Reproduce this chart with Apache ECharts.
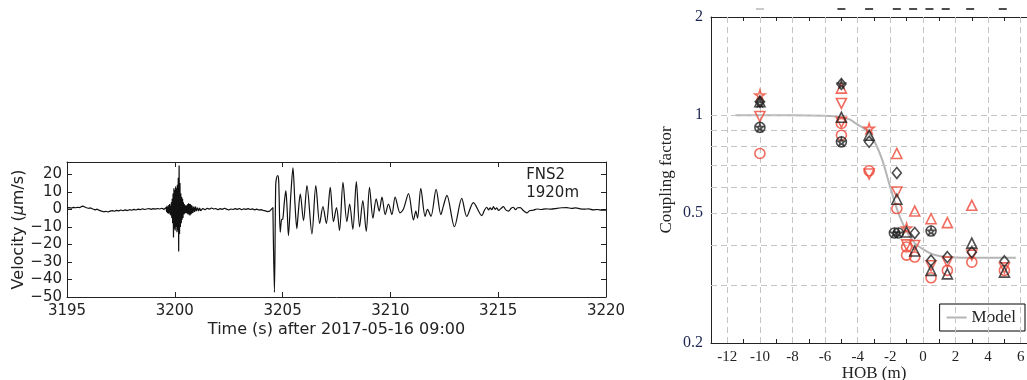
<!DOCTYPE html>
<html lang="en">
<head>
    <meta charset="UTF-8">
    <script src="https://cdn.jsdelivr.net/npm/echarts@6.0.0/dist/echarts.min.js"></script>
    <style>
        html, body { margin: 0; padding: 0; background: #fff; }
    </style>
</head>
<body>
<div id="chart" style="width: 1027px;height:380px;"></div>
<script type="text/javascript">

    // ---- left panel: FNS2 velocity trace, [time (s), velocity (um/s)]
    var preEvent = [
        [3195.0, 0.8], [3195.1, 1.0], [3195.2, 0.7], [3195.3, 1.1], [3195.4, 0.9], [3195.5, 1.2],
        [3195.6, 1.0], [3195.7, 1.8], [3195.75, 2.2], [3195.8, 1.5], [3195.9, 0.9], [3196.0, 0.6],
        [3196.1, 0.8], [3196.2, 0.2], [3196.3, -0.3], [3196.4, 0.1], [3196.5, -0.6], [3196.6, -1.0],
        [3196.7, -1.4], [3196.8, -1.1], [3196.9, -1.5], [3197.0, -1.0], [3197.1, -0.7], [3197.2, -1.1],
        [3197.3, -0.6], [3197.4, -0.9], [3197.5, -0.4], [3197.6, -0.8], [3197.7, -0.3], [3197.8, -0.7],
        [3197.9, -0.2], [3198.0, -0.5], [3198.1, 0.0], [3198.2, -0.4], [3198.3, 0.1], [3198.4, -0.2],
        [3198.5, 0.3], [3198.6, -0.1], [3198.7, 0.2], [3198.8, 0.5], [3198.9, 0.0], [3199.0, 0.4],
        [3199.1, 0.1], [3199.2, 0.5], [3199.3, 0.2], [3199.4, 0.6], [3199.5, 0.0], [3199.6, 1.0]
    ];
    var burst = [
        [3199.62, -1.5], [3199.64, 2], [3199.66, -2], [3199.68, 1.5], [3199.70, -2.5], [3199.72, 2.5],
        [3199.74, -2], [3199.76, 3], [3199.78, -3], [3199.80, 2], [3199.82, -3.5], [3199.84, 4],
        [3199.86, -5], [3199.88, 6], [3199.90, -8], [3199.92, 9], [3199.94, -16], [3199.96, 12],
        [3199.98, -11], [3200.00, 11], [3200.02, -12], [3200.04, 13], [3200.06, -10], [3200.08, 12],
        [3200.10, -13], [3200.12, 14], [3200.14, -12], [3200.16, 18], [3200.18, -24], [3200.20, 25],
        [3200.22, -14], [3200.24, 15], [3200.26, -10], [3200.28, 9], [3200.30, -8], [3200.32, 7],
        [3200.34, -6], [3200.36, 6], [3200.38, -5], [3200.40, 4], [3200.42, -3], [3200.44, 3],
        [3200.46, -2.5], [3200.48, 2], [3200.50, -2], [3200.52, 2.5], [3200.54, -2], [3200.56, 2],
        [3200.58, -2.5], [3200.60, 3], [3200.62, -3], [3200.64, 3.5], [3200.66, -3], [3200.68, 3],
        [3200.70, -3.5], [3200.72, 3], [3200.74, -3], [3200.76, 2.5], [3200.78, -2.5], [3200.80, 2],
        [3200.84, -2], [3200.88, 1.5], [3200.92, -1.5], [3200.96, 1.5], [3201.00, -1], [3201.05, 1],
        [3201.10, -1], [3201.15, 0.8], [3201.20, -0.8]
    ];
    var quiet = [
        [3201.3, 0.5], [3201.4, -0.3], [3201.5, 0.6], [3201.6, 0.1], [3201.7, 0.8], [3201.8, 0.2],
        [3201.9, 0.5], [3202.0, -0.2], [3202.1, 0.4], [3202.2, 0.0], [3202.3, 0.6], [3202.4, 0.1],
        [3202.5, -0.4], [3202.6, 0.2], [3202.7, -0.1], [3202.8, 0.4], [3202.9, 0.0], [3203.0, 0.5],
        [3203.1, -0.2], [3203.2, 0.3], [3203.3, 0.0], [3203.4, 0.4], [3203.5, -0.1], [3203.6, 0.3],
        [3203.7, -0.3], [3203.8, 0.1], [3203.9, -0.4], [3204.0, -0.2], [3204.1, -0.6], [3204.2, -0.9],
        [3204.3, -1.3], [3204.4, -1.0], [3204.48, -0.4], [3204.55, 1.0]
    ];
    var surfaceWave = [
        [3204.55, 1.0], [3204.62, -47.4], [3204.68, 14], [3204.72, 18], [3204.78, 19.3], [3204.82, 16],
        [3204.89, -13], [3204.95, -6], [3205.01, -5.5], [3205.08, 4], [3205.15, 10.7], [3205.21, 0],
        [3205.27, -15], [3205.38, 8], [3205.48, 23.6], [3205.57, 4], [3205.66, -11], [3205.72, -3],
        [3205.82, 8.8], [3205.97, -6.5], [3206.13, 13.5], [3206.36, -14], [3206.54, 13.5], [3206.72, -8],
        [3206.87, 1.5], [3207.03, -8], [3207.21, 12.6], [3207.36, -7], [3207.50, 1], [3207.64, -12],
        [3207.80, 15.4], [3207.98, -7], [3208.11, 3], [3208.26, -11.4], [3208.42, 15.8], [3208.57, -10],
        [3208.72, 5], [3208.88, -12.6], [3209.03, 12.6], [3209.19, -5], [3209.34, 6], [3209.48, -1],
        [3209.61, 7], [3209.76, -3], [3209.91, 3], [3210.07, -3], [3210.22, 7], [3210.45, -2],
        [3210.60, 0], [3210.84, 9], [3211.07, -6], [3211.18, -1], [3211.26, -5], [3211.41, 12],
        [3211.61, -4], [3211.72, 0], [3211.88, -4], [3212.12, 11.4], [3212.34, -3], [3212.46, 2],
        [3212.62, 8], [3212.97, -9.9], [3213.31, 6.3], [3213.54, -4], [3213.85, 3.8], [3214.24, -3.6],
        [3214.36, -0.5], [3214.47, 1.2], [3214.55, -0.3], [3214.63, 0.8], [3214.70, -0.2], [3214.78, 1.5],
        [3214.86, 0], [3214.93, 0.8], [3215.02, -0.6], [3215.12, 0.4], [3215.24, 1.5], [3215.35, -0.3],
        [3215.48, -1], [3215.60, 0.6], [3215.71, 1.2], [3215.80, -0.2], [3215.90, 0.9], [3216.02, 1.0],
        [3216.15, -0.5], [3216.25, -1.5], [3216.33, -2], [3216.45, -0.8], [3216.63, -0.5], [3216.80, 0.2],
        [3217.00, -0.1], [3217.20, 0.3], [3217.45, 0.1], [3217.72, 0.6], [3217.95, 0.9], [3218.18, 1.0],
        [3218.40, 0.5], [3218.60, 0.8], [3218.80, 0.3], [3219.00, 0.1], [3219.20, 0.3], [3219.40, -0.3],
        [3219.60, -0.1], [3219.80, -0.5], [3220.00, -0.4]
    ];
    var velocityTicks = [-50, -40, -30, -20, -10, 0, 10, 20];

    // ---- right panel: coupling factor vs HOB (m)
    var blackCircle = [[-10, 0.917], [-5, 0.828], [-1.75, 0.435], [-1.5, 0.435], [0.5, 0.441]];
    var blackStar = [[-10, 1.09], [-10, 0.917], [-5, 1.245], [-5, 0.828], [-1.75, 0.435], [-1.5, 0.435], [0.5, 0.441]];
    var blackDiamond = [[-10, 1.10], [-5, 1.245], [-3.3, 0.828], [-1.6, 0.665], [-0.5, 0.435],
        [0.5, 0.358], [1.5, 0.367], [3, 0.38], [5, 0.356]];
    var blackTriangle = [[-10, 1.10], [-5, 0.985], [-3.3, 0.868], [-1.6, 0.552], [-1, 0.438],
        [-0.5, 0.383], [0.5, 0.334], [1.5, 0.326], [3, 0.405], [5, 0.330]];
    var redCircle = [[-10, 0.763], [-5, 0.943], [-5, 0.868], [-3.3, 0.675], [-1.6, 0.517], [-1, 0.394],
        [-1, 0.372], [-0.5, 0.367], [0.5, 0.317], [1.5, 0.334], [3, 0.354], [5, 0.334]];
    var redTriangle = [[-5, 1.21], [-1.6, 0.763], [-0.5, 0.508], [0.5, 0.481], [1.5, 0.468], [3, 0.529]];
    var redTriangleDown = [[-10, 0.99], [-5, 1.086], [-5, 0.95], [-3.3, 0.66], [-1.6, 0.581], [-1, 0.40],
        [-0.5, 0.398], [0.5, 0.345], [1.5, 0.354], [3, 0.372], [5, 0.34]];
    var redStar = [[-10, 1.152], [-3.3, 0.91], [-1, 0.45]];
    var modelHob = [-11.5, -8, -6, -5, -4.5, -4, -3.5, -3, -2.5, -2, -1.5, -1, -0.5, 0, 0.5, 1, 2, 3, 5.7];
    var modelCoupling = [1.0, 1.0, 0.995, 0.985, 0.97, 0.935, 0.9, 0.835, 0.73, 0.6, 0.5, 0.44, 0.405,
        0.388, 0.376, 0.37, 0.366, 0.365, 0.365];
    var hobGrid = [-12, -10, -8, -6, -4, -2, 0, 2, 4, 6];
    var couplingGrid = [0.3, 0.4, 0.5, 0.6, 0.7, 0.8, 0.9, 1];
    var couplingTicks = [0.2, 0.3, 0.4, 0.5, 0.6, 0.7, 0.8, 0.9, 1, 2];
    var couplingLabels = [0.2, 0.5, 1, 2];
    var topDashHob = [-10, -5, -3.3, -1.6, -0.6, 0.4, 1.4, 2.9, 4.9];

    var ink = "#222";
    var red = "#ee4636";
    var sans = "DejaVu Sans";
    var serif = "Liberation Serif";
    var starPath = "path://M50,0 L61,35 L98,35 L68,57 L79,91 L50,70 L21,91 L32,57 L2,35 L39,35 Z";

    function minus(v) {
        return v < 0 ? "\u2212" + Math.abs(v) : String(v);
    }

    function markers(data, symbol, color, size, rotate) {
        return {
            type: "scatter",
            xAxisIndex: 2,
            yAxisIndex: 2,
            data: data,
            symbol: symbol,
            symbolSize: size,
            symbolRotate: rotate || 0,
            itemStyle: { color: "rgba(0,0,0,0)", borderColor: color, borderWidth: 1.6 },
            z: 5,
            silent: true
        };
    }

    // axis with a visible line and inward ticks, used for every frame side
    function frame(extra, tickLen, ticks) {
        var tick = { show: true, inside: true, length: tickLen, lineStyle: { color: ink } };
        if (ticks) tick.customValues = ticks;
        return Object.assign({
            axisLine: { show: true, onZero: false, lineStyle: { color: ink, width: 1 } },
            axisTick: tick,
            splitLine: { show: false },
            minorTick: { show: false },
            nameMoveOverlap: false
        }, extra);
    }

    var chart = echarts.init(document.getElementById("chart"));
    var option = {
        animation: false,
        backgroundColor: "#fff",
        grid: [
            { left: 67, top: 162, right: 421, bottom: 83, outerBoundsMode: "none" },
            { left: 711, top: 17, right: -10, bottom: 37, outerBoundsMode: "none" },
            { left: 711, top: 4, right: -10, height: 10, outerBoundsMode: "none" }
        ],
        legend: {
            data: ["Model"],
            right: 2,
            top: 304,
            icon: "rect",
            itemWidth: 20,
            itemHeight: 2,
            borderColor: "#000",
            borderWidth: 1,
            borderRadius: 0,
            padding: [5, 9, 5, 7],
            itemGap: 5,
            textStyle: { fontFamily: serif, fontSize: 17, color: ink }
        },
        graphic: [{
            type: "text",
            right: 448,
            top: 166,
            style: {
                text: "FNS2\n1920m",
                align: "right",
                font: "15px 'DejaVu Sans'",
                lineHeight: 18,
                fill: ink
            }
        }],
        xAxis: [
            frame({
                gridIndex: 0, type: "value", min: 3195, max: 3220, interval: 5, position: "bottom",
                axisLabel: { color: ink, fontFamily: sans, fontSize: 15, margin: 7,
                    formatter: function (v) { return String(v); } },
                name: "Time (s) after 2017-05-16 09:00", nameLocation: "middle", nameGap: 25,
                nameTextStyle: { color: ink, fontFamily: sans, fontSize: 16 }
            }, 5),
            frame({
                gridIndex: 0, type: "value", min: 3195, max: 3220, interval: 5, position: "top",
                axisLabel: { show: false }
            }, 5),
            frame({
                gridIndex: 1, type: "value", min: -13, max: 7, interval: 1, position: "bottom",
                axisLabel: {
                    color: ink, fontFamily: serif, fontSize: 15, margin: 7,
                    formatter: function (v) { return (v % 2 === 0 && v > -13 && v < 7) ? String(v) : ""; }
                },
                name: "HOB (m)", nameLocation: "middle", nameGap: 22,
                nameTextStyle: { color: ink, fontFamily: serif, fontSize: 17 }
            }, 4),
            frame({
                gridIndex: 1, type: "value", min: -13, max: 7, interval: 1, position: "top",
                axisLabel: { show: false }
            }, 4),
            { gridIndex: 2, type: "value", min: -13, max: 7, show: false }
        ],
        yAxis: [
            frame({
                gridIndex: 0, type: "value", min: -50, max: 27, interval: 10, position: "left",
                axisLabel: { color: ink, fontFamily: sans, fontSize: 15, margin: 5,
                    customValues: velocityTicks, formatter: minus },
                name: "Velocity ({i|\u03bc}m/s)", nameLocation: "middle", nameGap: 40,
                nameTextStyle: { color: ink, fontFamily: sans, fontSize: 16,
                    rich: { i: { fontStyle: "italic", fontFamily: sans, fontSize: 16, color: ink } } }
            }, 5, velocityTicks),
            frame({
                gridIndex: 0, type: "value", min: -50, max: 27, interval: 10, position: "right",
                axisLabel: { show: false }
            }, 5, velocityTicks),
            frame({
                gridIndex: 1, type: "log", logBase: 10, min: 0.2, max: 2, position: "left",
                axisLabel: { color: "#1d2550", fontFamily: serif, fontSize: 16, margin: 8,
                    customValues: couplingLabels, formatter: function (v) { return String(v); } },
                name: "Coupling factor", nameLocation: "middle", nameGap: 36,
                nameTextStyle: { color: ink, fontFamily: serif, fontSize: 17 }
            }, 4, couplingTicks),
            { gridIndex: 2, type: "value", min: 0, max: 1, show: false }
        ],
        series: [
            {
                type: "line", xAxisIndex: 0, yAxisIndex: 0,
                data: preEvent.concat(burst, quiet),
                symbol: "none", lineStyle: { color: "#111", width: 1.2 }, silent: true
            },
            {
                type: "line", xAxisIndex: 0, yAxisIndex: 0,
                data: surfaceWave, smooth: 0.3,
                symbol: "none", lineStyle: { color: "#111", width: 1.2 }, silent: true
            },
            {
                // dashed grid of the right panel
                type: "line", xAxisIndex: 2, yAxisIndex: 2, data: [], silent: true, z: 1,
                markLine: {
                    silent: true, symbol: ["none", "none"], label: { show: false },
                    animation: false,
                    lineStyle: { color: "#c4c4c4", type: [6, 4], width: 1 },
                    data: hobGrid.map(function (h) { return { xAxis: h }; })
                        .concat(couplingGrid.map(function (c) { return { yAxis: c }; }))
                }
            },
            {
                name: "Model", type: "line", xAxisIndex: 2, yAxisIndex: 2,
                data: modelHob.map(function (h, i) { return [h, modelCoupling[i]]; }),
                smooth: 0.3, symbol: "none", z: 3,
                lineStyle: { color: "#b5b5b5", width: 2 }, itemStyle: { color: "#b5b5b5" }
            },
            markers(redCircle, "circle", red, 10),
            markers(redTriangle, "triangle", red, 10),
            markers(redTriangleDown, "triangle", red, 10, 180),
            markers(redStar, starPath, red, 10),
            markers(blackCircle, "circle", ink, 10),
            markers(blackStar, starPath, ink, 7),
            markers(blackDiamond, "diamond", ink, [9, 11]),
            markers(blackTriangle, "triangle", ink, 10),
            {
                type: "scatter", xAxisIndex: 4, yAxisIndex: 3, silent: true,
                data: topDashHob.map(function (h) {
                    return { value: [h, 0.5], itemStyle: { color: h === -10 ? "#bbb" : ink } };
                }),
                symbol: "rect", symbolSize: [8, 2]
            }
        ]
    };
    chart.setOption(option);
</script>
</body>
</html>
